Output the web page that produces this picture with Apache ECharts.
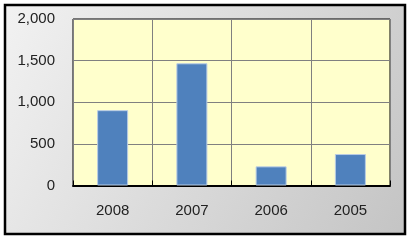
<!DOCTYPE html>
<html><head><meta charset="utf-8">
<script src="https://cdn.jsdelivr.net/npm/echarts@6/dist/echarts.min.js"></script>
<style>html,body{margin:0;padding:0;background:#fff}#c{width:412px;height:243px}</style>
</head><body><div id="c"></div>
<script>
var categories = ['2008', '2007', '2006', '2005'];
var values = [905, 1468, 230, 378];
var yTicks = { min: 0, max: 2000, interval: 500 };

var chart = echarts.init(document.getElementById('c'), null, { renderer: 'canvas' });
chart.setOption({
  animation: false,
  backgroundColor: '#ffffff',
  graphic: [{
    type: 'rect', z: -10, silent: true,
    shape: { x: 5, y: 5, width: 400, height: 229 },
    style: {
      fill: new echarts.graphic.LinearGradient(0, 0, 1, 1, [
        { offset: 0, color: '#f2f2f2' }, { offset: 1, color: '#c4c4c4' }
      ]),
      stroke: '#000', lineWidth: 2.5
    }
  }],
  grid: {
    left: 73, top: 19, right: 22, bottom: 57.5,
    show: true, backgroundColor: '#ffffcc', borderColor: '#000', borderWidth: 1
  },
  xAxis: {
    type: 'category', data: categories,
    axisLine: { show: true, lineStyle: { color: '#000', width: 2 } },
    axisTick: { show: true, inside: true, length: 5, lineStyle: { color: '#000' } },
    splitLine: { show: true, lineStyle: { color: '#808080', width: 1 } },
    axisLabel: { color: '#222', fontSize: 15, fontFamily: 'Liberation Sans, Arial', margin: 18 }
  },
  yAxis: {
    type: 'value', min: yTicks.min, max: yTicks.max, interval: yTicks.interval,
    axisLine: { show: false },
    axisTick: { show: false },
    splitLine: { show: true, lineStyle: { color: '#808080', width: 1 } },
    axisLabel: {
      color: '#222', fontSize: 15, fontFamily: 'Liberation Sans, Arial', margin: 18,
      formatter: function (v) { return v.toLocaleString('en-US'); }
    }
  },
  series: [{
    type: 'bar', data: values, barWidth: 31,
    itemStyle: { color: '#4f81bd', borderColor: '#b8cce4', borderWidth: 1 }
  }]
});
</script></body></html>
